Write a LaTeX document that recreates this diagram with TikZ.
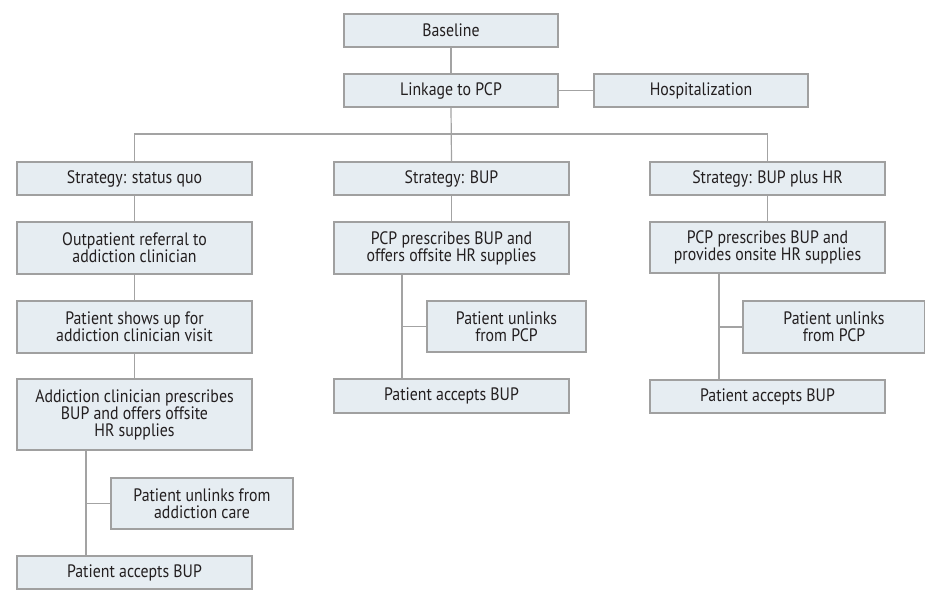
\documentclass[tikz,border=0pt]{standalone}
\usepackage{fontspec}
\setmainfont{PT Sans}[FakeStretch=0.88]
\definecolor{boxfill}{HTML}{E6EDF2}
\definecolor{boxline}{HTML}{A0A0A0}
\definecolor{connline}{HTML}{A3A3A3}
\definecolor{txt}{HTML}{231F20}
\begin{document}
\begin{tikzpicture}[x=0.75pt,y=-0.75pt,
  flowbox/.style={draw=boxline, fill=boxfill, line width=0.9pt, inner sep=0pt,
    align=center, text=txt, font=\fontsize{13.5}{12.8}\selectfont},
  conn/.style={draw=connline, line width=0.9pt}]
\useasboundingbox (0,0) rectangle (925,590);
\newcommand{\bx}[7]{% name, x1, x2, y1, y2, text
  \node[flowbox, minimum width={(#3-#2)*0.75pt}, minimum height={(#5-#4)*0.75pt}] (#1) at ({(#2+#3)/2},{(#4+#5)/2}) {#6};}
\bx{base}{344}{558}{14}{47}{Baseline}{}
\bx{link}{344}{558}{74}{107}{Linkage to PCP}{}
\bx{hosp}{594}{808}{74}{107}{Hospitalization}{}
\bx{sa}{17}{252}{162}{195}{Strategy: status quo}{}
\bx{sb}{334}{569}{162}{195}{Strategy: BUP}{}
\bx{sc}{650}{885}{162}{195}{Strategy: BUP plus HR}{}
\bx{oa}{17}{252}{222}{274}{Outpatient referral to\\addiction clinician}{}
\bx{sha}{17}{252}{301}{353}{Patient shows up for\\addiction clinician visit}{}
\bx{aca}{17}{252}{379}{450}{Addiction clinician prescribes\\BUP and offers offsite\\HR supplies}{}
\bx{ua}{111}{293}{478}{529}{Patient unlinks from\\addiction care}{}
\bx{aa}{17}{252}{556}{589}{Patient accepts BUP}{}
\bx{pb}{334}{569}{222}{274}{PCP prescribes BUP and\\offers offsite HR supplies}{}
\bx{ub}{427}{586}{301}{352}{Patient unlinks\\from PCP}{}
\bx{ab}{334}{569}{379}{413}{Patient accepts BUP}{}
\bx{pc}{650}{885}{222}{273}{PCP prescribes BUP and\\provides onsite HR supplies}{}
\bx{uc}{743}{925}{301}{353}{Patient unlinks\\from PCP}{}
\bx{ac}{650}{885}{380}{413}{Patient accepts BUP}{}
\coordinate (jn) at (451,134);
\coordinate (bra) at (86,0);
\coordinate (brb) at (402,0);
\coordinate (brc) at (719,0);
\draw[conn] (base.south) -- (link.north);
\draw[conn] (link.east) -- (hosp.west);
\draw[conn] (link.south) -- (sb.north);
\draw[conn] (sa.north) |- (jn) -| (sc.north);
\draw[conn] (sa.south) -- (oa.north);
\draw[conn] (oa.south) -- (sha.north);
\draw[conn] (sha.south) -- (aca.north);
\draw[conn] (aca.south -| bra) -- (aa.north -| bra);
\draw[conn] (ua.west) -- (ua.west -| bra);
\draw[conn] (sb.south) -- (pb.north);
\draw[conn] (pb.south -| brb) -- (ab.north -| brb);
\draw[conn] (ub.west) -- (ub.west -| brb);
\draw[conn] (sc.south) -- (pc.north);
\draw[conn] (pc.south -| brc) -- (ac.north -| brc);
\draw[conn] (uc.west) -- (uc.west -| brc);
\end{tikzpicture}
\end{document}
